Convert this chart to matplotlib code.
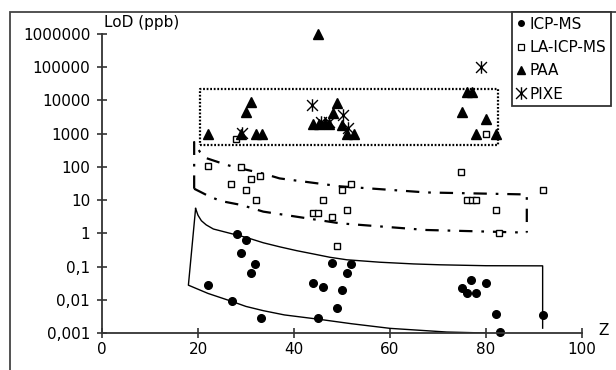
import numpy as np
import matplotlib
matplotlib.use("Agg")
import matplotlib.pyplot as plt
from matplotlib.lines import Line2D
from matplotlib.patches import Rectangle
from matplotlib.path import Path

# --- data (Z, LoD in ppb) ---
icp_z = [28.1, 30.1, 29.0, 31.9, 31.0, 22.1, 27.0, 33.1, 43.9, 46.0, 45.1, 48.0,
         51.9, 51.0, 49.9, 48.9, 74.9, 76.8, 76.0, 77.9, 79.9, 82.0, 82.9, 91.8]
icp_lod = [0.93, 0.63, 0.26, 0.12, 0.066, 0.027, 0.0093, 0.0028, 0.031, 0.025, 0.0028, 0.13,
           0.12, 0.062, 0.0195, 0.0055, 0.023, 0.039, 0.0155, 0.0155, 0.032, 0.0037, 0.00107, 0.0035]

la_z = [28.0, 22.1, 29.0, 31.0, 33.0, 26.9, 30.1, 32.0, 46.0, 49.9, 51.9, 51.0, 44.0, 45.0,
        48.0, 48.9, 74.8, 76.0, 77.0, 77.9, 82.0, 82.8, 91.8, 80.0]
la_lod = [690, 105, 100, 42, 52, 30, 20, 10, 10, 20, 30, 5.2, 4, 4,
          3, 0.42, 70, 10, 10, 10, 5, 1.03, 20, 1000]

paa_z = [22.1, 29.0, 30.1, 31.0, 32.1, 33.3, 44.0, 45.2, 46.4, 47.2, 48.2, 49.0, 49.9,
         51.0, 52.4, 45.0, 74.9, 76.0, 77.0, 77.9, 80.0, 82.1]
paa_lod = [1000, 950, 4600, 9100, 950, 950, 1900, 2000, 2100, 1900, 4300, 8500, 1800,
           1000, 1000, 1000000, 4600, 18000, 18000, 1000, 2700, 1000]

pixe_z = [29.1, 43.7, 45.6, 47.3, 50.3, 51.3, 78.9]
pixe_lod = [1070, 7300, 2300, 2300, 3600, 1450, 105000]

# envelopes
icp_up_z = [19.5, 20.0, 20.7, 21.7, 23.2, 26.7, 30.1, 33.6, 37.1, 40.6, 44.0, 47.5, 51.0,
            57.9, 64.9, 70.4, 80.0, 91.8, 91.8]
icp_up_lod = [5.6, 3.5, 2.4, 1.8, 1.35, 1.0, 0.75, 0.52, 0.39, 0.30, 0.24, 0.19, 0.16,
              0.135, 0.12, 0.113, 0.106, 0.105, 0.0014]
icp_lo_z = [19.5, 18.0, 22.1, 26.7, 30.0, 33.6, 38.0, 45.1, 52.0, 60.0, 71.8, 80.0]
icp_lo_lod = [5.6, 0.0275, 0.0155, 0.0093, 0.0063, 0.0047, 0.0035, 0.0026, 0.0019, 0.00138, 0.00107, 0.001]

la_up_z = [19.2, 19.2, 20.4, 21.8, 24.9, 27.4, 33.6, 37.0, 49.6, 67.6, 88.5, 88.5]
la_up_lod = [22, 560, 282, 182, 129, 100, 63, 45, 26, 17, 14.8, 1.05]
la_lo_z = [19.2, 20.4, 22.5, 24.9, 29.1, 33.6, 49.6, 67.6, 88.5]
la_lo_lod = [22, 18, 12.6, 9.3, 7.1, 4.5, 2.0, 1.26, 1.05]

box_z = [20.5, 82.4, 82.4, 20.5, 20.5]
box_lod = [450, 450, 22000, 22000, 450]

yticks = [0.001, 0.01, 0.1, 1, 10, 100, 1000, 10000, 100000, 1000000]
ytick_labels = ["0,001", "0,01", "0,1", "1", "10", "100", "1000", "10000", "100000", "1000000"]
xticks = [0, 20, 40, 60, 80, 100]

plt.rcParams['font.family'] = 'DejaVu Sans'
plt.rcParams['font.size'] = 11

# asterisk with vertical bar, as in the PIXE marker
pixe_marker = Path([(-1, -1), (1, 1), (-1, 1), (1, -1), (0, -1.15), (0, 1.15)],
                   [Path.MOVETO, Path.LINETO, Path.MOVETO, Path.LINETO, Path.MOVETO, Path.LINETO])

fig = plt.figure(figsize=(6.16, 3.70), dpi=100)
ax = fig.add_axes([102 / 616, 1 - 333 / 370, 480 / 616, 299 / 370])

ax.set_yscale('log')
ax.set_xlim(0, 100)
ax.set_ylim(0.001, 1000000)

# envelopes
ax.plot(icp_up_z, icp_up_lod, color='k', lw=1.0)
ax.plot(icp_lo_z, icp_lo_lod, color='k', lw=1.0)
ax.plot(la_up_z, la_up_lod, color='k', lw=1.6, linestyle=(0, (6, 4, 1.2, 4)))
ax.plot(la_lo_z, la_lo_lod, color='k', lw=1.6, linestyle=(0, (6, 4, 1.2, 4)))
ax.plot(box_z, box_lod, color='k', lw=1.6, linestyle=(0, (0.8, 0.8)))

# points
ax.plot(icp_z, icp_lod, 'o', color='k', ms=5.5, clip_on=False)
ax.plot(la_z, la_lod, 's', mfc='white', mec='k', mew=1.0, ms=5, clip_on=False)
ax.plot(paa_z, paa_lod, '^', color='k', ms=6.5, clip_on=False)
ax.plot(pixe_z, pixe_lod, marker=pixe_marker, ls='none', color='k', mew=1.0, ms=9, clip_on=False)

ax.set_yticks(yticks)
ax.set_yticklabels(ytick_labels)
ax.yaxis.set_minor_locator(matplotlib.ticker.NullLocator())
ax.set_xticks(xticks)
ax.tick_params(direction='inout', length=7, width=1.2, color='#333', labelsize=11)
ax.tick_params(axis='y', pad=5)
ax.tick_params(axis='x', pad=3)

for side in ['top', 'right']:
    ax.spines[side].set_visible(False)
for side in ['left', 'bottom']:
    ax.spines[side].set_linewidth(1.3)
    ax.spines[side].set_color('#333')

ax.text(0.005, 1.012, "LoD (ppb)", transform=ax.transAxes, ha='left', va='bottom', fontsize=11)
ax.text(1.044, 0.01, "Z", transform=ax.transAxes, ha='center', va='center', fontsize=11)

# outer frame (only left and top edges fall inside the picture)
fig.add_artist(Rectangle((10 / 616, -0.5), 2, 1 - 12 / 370 + 0.5, transform=fig.transFigure,
                         fill=False, edgecolor='#444', lw=1.3))

handles = [
    Line2D([], [], marker='o', ls='none', color='k', ms=4),
    Line2D([], [], marker='s', ls='none', mfc='white', mec='k', mew=0.9, ms=4.5),
    Line2D([], [], marker='^', ls='none', color='k', ms=6),
    Line2D([], [], marker=pixe_marker, ls='none', color='k', mew=1.0, ms=9),
]
labels = ["ICP-MS", "LA-ICP-MS", "PAA", "PIXE"]
leg = fig.legend(handles, labels, loc='upper left', bbox_to_anchor=(512 / 616, 1 - 12 / 370),
                 bbox_transform=fig.transFigure, fancybox=False, framealpha=1,
                 edgecolor='#333', handlelength=0.6, handletextpad=0.25, borderpad=0.3,
                 labelspacing=0.55, borderaxespad=0, fontsize=11)
leg.get_frame().set_linewidth(1.3)

fig.savefig("out.png", dpi=100)
